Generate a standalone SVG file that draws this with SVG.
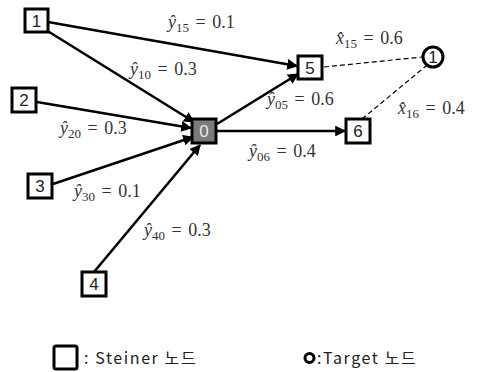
<svg xmlns="http://www.w3.org/2000/svg" width="477" height="372" viewBox="0 0 477 372">
  <style>
    .box { fill: #ffffff; stroke: #000000; stroke-width: 3; }
    .hub { fill: #7a7a7a; stroke: #000000; stroke-width: 3; }
    .num { font-family: "Liberation Sans", Arial, sans-serif; font-size: 17px; fill: #222222; text-anchor: middle; }
    .num-hub { fill: #e8e8e8; }
    .edge { stroke: #000000; stroke-width: 2.6; fill: none; marker-end: url(#arrow); }
    .dash { stroke: #000000; stroke-width: 1.2; fill: none; stroke-dasharray: 5 3; }
    .lbl { font-family: "Liberation Serif", "Times New Roman", serif; font-size: 18px; fill: #333333; word-spacing: 2px; }
    .var { font-style: italic; }
    .sub { font-size: 13px; }
    .leg { font-family: "Noto Sans CJK KR", "Noto Sans", sans-serif; font-size: 16px; fill: #222222; letter-spacing: 1.6px; }
  </style>
  <defs>
    <marker id="arrow" viewBox="0 0 10 10" refX="9" refY="5" markerWidth="4.2" markerHeight="4.2" orient="auto" markerUnits="strokeWidth">
      <path d="M0,0 L10,5 L0,10 z" fill="#000000"/>
    </marker>
  </defs>

  <!-- connectors -->
  <g id="connectors">
    <line class="edge" x1="48" y1="22" x2="297" y2="66"/>
    <line class="edge" x1="46" y1="30" x2="194" y2="122"/>
    <line class="edge" x1="37" y1="102" x2="191" y2="128"/>
    <line class="edge" x1="53" y1="184" x2="193" y2="137"/>
    <line class="edge" x1="94" y1="272" x2="200" y2="145"/>
    <line class="edge" x1="217" y1="124" x2="298" y2="74"/>
    <line class="edge" x1="217" y1="131" x2="345" y2="131"/>
    <line class="dash" x1="324" y1="67" x2="422" y2="57"/>
    <line class="dash" x1="362" y1="119" x2="426" y2="66"/>
  </g>

  <!-- edge labels -->
  <g id="edge-labels">
    <text class="lbl" x="168" y="28"><tspan class="var">ŷ</tspan><tspan class="sub" dy="4">15</tspan><tspan dy="-4"> = 0.1</tspan></text>
    <text class="lbl" x="130" y="75"><tspan class="var">ŷ</tspan><tspan class="sub" dy="4">10</tspan><tspan dy="-4"> = 0.3</tspan></text>
    <text class="lbl" x="60" y="134"><tspan class="var">ŷ</tspan><tspan class="sub" dy="4">20</tspan><tspan dy="-4"> = 0.3</tspan></text>
    <text class="lbl" x="74" y="197"><tspan class="var">ŷ</tspan><tspan class="sub" dy="4">30</tspan><tspan dy="-4"> = 0.1</tspan></text>
    <text class="lbl" x="144" y="236"><tspan class="var">ŷ</tspan><tspan class="sub" dy="4">40</tspan><tspan dy="-4"> = 0.3</tspan></text>
    <text class="lbl" x="267" y="105"><tspan class="var">ŷ</tspan><tspan class="sub" dy="4">05</tspan><tspan dy="-4"> = 0.6</tspan></text>
    <text class="lbl" x="249" y="157"><tspan class="var">ŷ</tspan><tspan class="sub" dy="4">06</tspan><tspan dy="-4"> = 0.4</tspan></text>
    <text class="lbl" x="336" y="44"><tspan class="var">x̂</tspan><tspan class="sub" dy="4">15</tspan><tspan dy="-4"> = 0.6</tspan></text>
    <text class="lbl" x="398" y="114"><tspan class="var">x̂</tspan><tspan class="sub" dy="4">16</tspan><tspan dy="-4"> = 0.4</tspan></text>
  </g>

  <!-- nodes -->
  <g id="node-1"><rect class="box" x="25" y="9" width="23" height="23"/><text class="num" x="36.5" y="27">1</text></g>
  <g id="node-2"><rect class="box" x="12" y="88" width="24" height="24"/><text class="num" x="24" y="106">2</text></g>
  <g id="node-3"><rect class="box" x="28" y="174" width="24" height="24"/><text class="num" x="40" y="192">3</text></g>
  <g id="node-4"><rect class="box" x="82" y="272" width="24" height="24"/><text class="num" x="94" y="290">4</text></g>
  <g id="node-0"><rect class="hub" x="192" y="119" width="24" height="24"/><text class="num num-hub" x="204" y="137">0</text></g>
  <g id="node-5"><rect class="box" x="298" y="56" width="24" height="23"/><text class="num" x="310" y="74">5</text></g>
  <g id="node-6"><rect class="box" x="346" y="119" width="24" height="24"/><text class="num" x="358" y="137">6</text></g>
  <g id="target-1"><circle cx="433" cy="57" r="10" fill="#ffffff" stroke="#000000" stroke-width="3"/><text class="num" x="433" y="63">1</text></g>

  <!-- legend -->
  <g id="legend">
    <rect x="54" y="346" width="23" height="23" rx="2" fill="#ffffff" stroke="#000000" stroke-width="3"/>
    <text class="leg" x="84" y="364">: Steiner 노드</text>
    <circle cx="309.5" cy="358" r="4.5" fill="#ffffff" stroke="#000000" stroke-width="3"/>
    <text class="leg" x="317" y="364">:Target 노드</text>
  </g>
</svg>
